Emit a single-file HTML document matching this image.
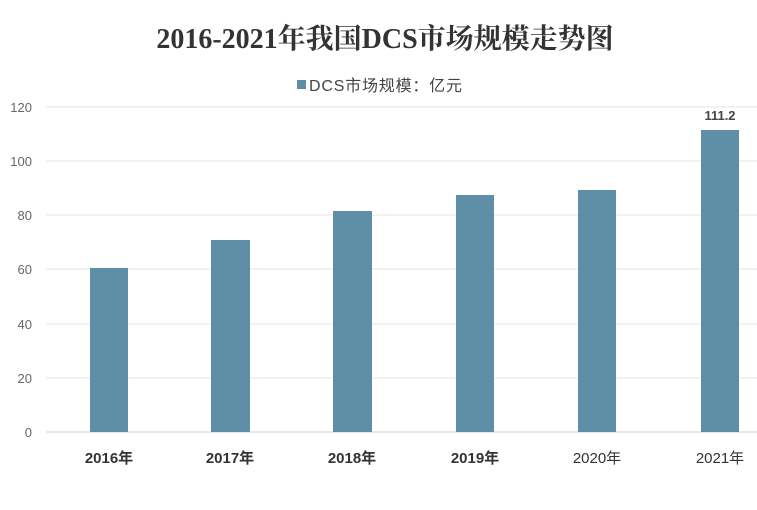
<!DOCTYPE html>
<html><head><meta charset="utf-8"><style>
body{margin:0;background:#fff;width:757px;height:505px;overflow:hidden}
svg text{font-family:"Liberation Sans","Noto Sans CJK SC",sans-serif}
</style></head><body>
<svg width="757" height="505" xmlns="http://www.w3.org/2000/svg">
<text x="385" y="48" text-anchor="middle" font-size="28" font-weight="bold" fill="#333" style="font-family:'Liberation Serif','Noto Serif CJK SC',serif">2016-2021年我国DCS市场规模走势图</text>
<rect x="297" y="80" width="9" height="9" fill="#5f8fa6"/>
<text x="309" y="91" font-size="16" fill="#444" letter-spacing="0.8">DCS市场规模：亿元</text>
<g stroke="#e4e4e4" stroke-width="1">
<line x1="46" x2="757" y1="107" y2="107"/><line x1="46" x2="757" y1="161" y2="161"/>
<line x1="46" x2="757" y1="215" y2="215"/><line x1="46" x2="757" y1="269" y2="269"/>
<line x1="46" x2="757" y1="324" y2="324"/><line x1="46" x2="757" y1="378" y2="378"/>
<line x1="46" x2="757" y1="432" y2="432" stroke="#d0d0d0"/>
</g>
<g font-size="13" fill="#666" text-anchor="end">
<text x="32" y="112">120</text><text x="32" y="166">100</text><text x="32" y="220">80</text>
<text x="32" y="274">60</text><text x="32" y="329">40</text><text x="32" y="383">20</text><text x="32" y="437">0</text>
</g>
<g fill="#5f8fa6">
<rect x="90" y="268" width="38" height="164"/>
<rect x="211" y="240" width="39" height="192"/>
<rect x="333" y="211" width="39" height="221"/>
<rect x="456" y="195" width="38" height="237"/>
<rect x="578" y="190" width="38" height="242"/>
<rect x="701" y="130" width="38" height="302"/>
</g>
<text x="720" y="120" text-anchor="middle" font-size="13" font-weight="bold" fill="#444">111.2</text>
<g font-size="15" font-weight="bold" fill="#333" text-anchor="middle">
<text x="109" y="463">2016年</text><text x="230" y="463">2017年</text><text x="352" y="463">2018年</text>
<text x="475" y="463">2019年</text><text x="597" y="463" font-weight="normal">2020年</text><text x="720" y="463" font-weight="normal">2021年</text>
</g>
</svg>
</body></html>
